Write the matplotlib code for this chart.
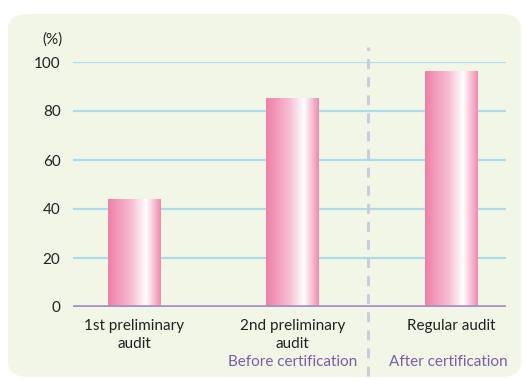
import numpy as np
import matplotlib.pyplot as plt
from matplotlib.patches import FancyBboxPatch
from matplotlib.colors import LinearSegmentedColormap

categories = ['1st preliminary\naudit', '2nd preliminary\naudit', 'Regular audit']
values = [44, 85, 96]
yticks = [0, 20, 40, 60, 80, 100]
phase_labels = ['Before certification', 'After certification']

plt.rcParams['font.family'] = ['Lato', 'DejaVu Sans']

W, H = 523, 379
fig = plt.figure(figsize=(W / 100, H / 100), dpi=100)
fig.patch.set_facecolor('white')

# rounded background panel
panel = FancyBboxPatch((8 / W, 2 / H), 513 / W, 363 / H,
                       boxstyle='round,pad=0,rounding_size=0.04',
                       transform=fig.transFigure, facecolor='#F2F6E6',
                       edgecolor='none', zorder=-5)
fig.add_artist(panel)

ax = fig.add_axes([73 / W, (H - 307) / H, (506 - 73) / W, (307 - 62) / H])
ax.set_zorder(2)
ax.patch.set_alpha(0)
for s in ax.spines.values():
    s.set_visible(False)

x = np.arange(len(values))
bar_w = 0.33

for t in yticks[1:]:
    ax.axhline(t, color='#A9DCEC', lw=1.6, zorder=1)
ax.axhline(0, color='#A690C8', lw=2.6, zorder=3)

cmap = LinearSegmentedColormap.from_list(
    'bar', [(0, '#EF7FA7'), (0.45, '#F7BFD3'), (0.72, '#FFFFFF'), (1.0, '#F08AAF')])
grad = np.linspace(0, 1, 256).reshape(1, -1)
for xi, v in zip(x, values):
    ax.imshow(grad, cmap=cmap, aspect='auto', zorder=2,
              extent=[xi - bar_w / 2, xi + bar_w / 2, 0, v], interpolation='bilinear')

ax.set_xlim(-0.385, 2.347)
ax.set_ylim(0, 100)

# divider between before/after certification
ax.plot([1.474, 1.474], [-28, 106], color='#CFC6E0', lw=2.1,
        dashes=(3.4, 2.8), clip_on=False, zorder=1)

ax.set_yticks(yticks)
ax.set_yticklabels([str(t) for t in yticks], fontsize=11, color='#222222')
ax.tick_params(axis='y', length=0, pad=9)
ax.set_xticks([])
ax.text(-0.025, 1.09, '(%)', fontsize=11, ha='right', va='center',
        transform=ax.transAxes, clip_on=False, color='#222222')

for xi, c in zip(x, categories):
    ax.text(xi, -5.0, c, ha='center', va='top', fontsize=11,
            color='#222222', linespacing=1.3, clip_on=False)

ax.text(1.0, -22.5, phase_labels[0], ha='center', va='center', fontsize=11,
        color='#7B5EA8', clip_on=False)
ax.text(1.98, -22.5, phase_labels[1], ha='center', va='center', fontsize=11,
        color='#7B5EA8', clip_on=False)

fig.savefig('out.png', dpi=100)
